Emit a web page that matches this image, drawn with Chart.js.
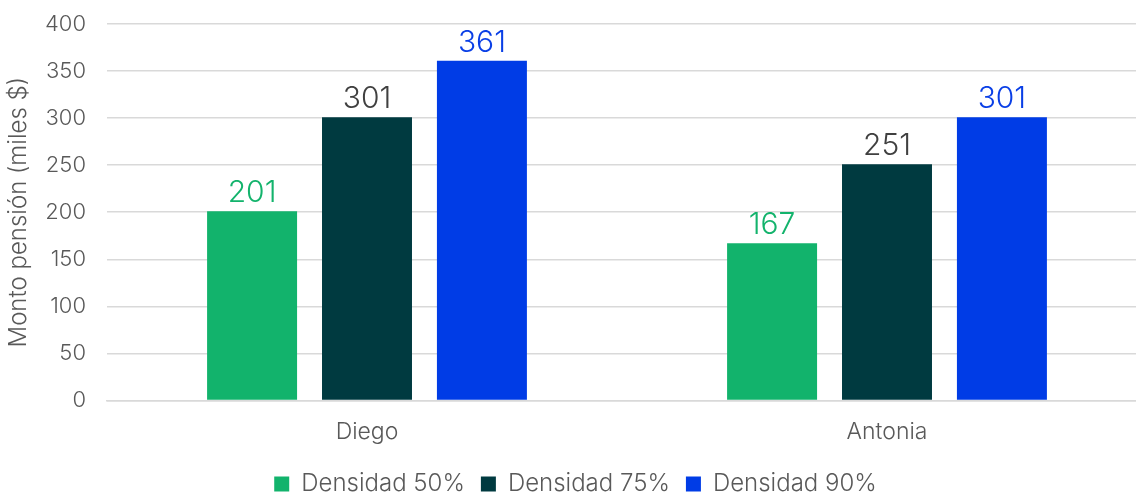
<!DOCTYPE html>
<html>
<head>
<meta charset="utf-8">
<script src="https://cdn.jsdelivr.net/npm/chart.js@4.4.1/dist/chart.umd.min.js"></script>
<style>
    html, body { margin: 0; padding: 0; background: #fff; overflow: hidden; }
    #wrap { width: 1150px; height: 495px; }
</style>
</head>
<body>
<div id="wrap"><canvas id="chart"></canvas></div>
<script>
const categories = ['Diego', 'Antonia'];
const seriesNames = ['Densidad 50%', 'Densidad 75%', 'Densidad 90%'];
const densidad50 = [201, 167];
const densidad75 = [301, 251];
const densidad90 = [361, 301];
const yTicks = [0, 50, 100, 150, 200, 250, 300, 350, 400];

const barColors = ['#12b36c', '#003a40', '#003ce6'];
const labelColors = ['#13b36c', '#404040', '#0a3fe6'];
const FONT = 'Inter, "Open Sans", sans-serif';

// value labels above the bars
const barLabels = {
    id: 'barLabels',
    afterDatasetsDraw(chart) {
        const { ctx } = chart;
        ctx.save();
        ctx.font = `300 30px ${FONT}`;
        ctx.textAlign = 'center';
        ctx.textBaseline = 'bottom';
        chart.data.datasets.forEach((ds, i) => {
            chart.getDatasetMeta(i).data.forEach((bar, j) => {
                ctx.fillStyle = labelColors[i];
                ctx.fillText(ds.data[j], bar.x, bar.y - 3);
            });
        });
        ctx.restore();
    }
};

const ctx = document.getElementById('chart').getContext('2d');
new Chart(ctx, {
    type: 'bar',
    data: {
        labels: categories,
        datasets: [densidad50, densidad75, densidad90].map((data, i) => ({
            label: seriesNames[i],
            data: data,
            backgroundColor: barColors[i],
            categoryPercentage: 0.663,
            barPercentage: 0.783
        }))
    },
    options: {
        responsive: true,
        maintainAspectRatio: false,
        animation: false,
        layout: { padding: { top: 24, right: 3, left: 4, bottom: -11 } },
        scales: {
            x: {
                grid: { display: false },
                border: { color: '#d9d9d9', width: 1.5 },
                ticks: { color: '#595959', font: { family: FONT, size: 23, weight: 300 }, padding: 10 }
            },
            y: {
                min: 0,
                max: 400,
                afterBuildTicks: (axis) => { axis.ticks = yTicks.map(v => ({ value: v })); },
                afterFit: (axis) => {
                    axis.width = 103;
                    axis.paddingTop = 0;
                    axis.paddingBottom = 0;
                },
                grid: { color: '#d9d9d9', lineWidth: 1.5, drawTicks: false },
                border: { display: false },
                ticks: { color: '#595959', font: { family: FONT, size: 22, weight: 300 }, padding: 21 },
                title: {
                    display: true,
                    text: 'Monto pensión (miles $)',
                    color: '#595959',
                    font: { family: FONT, size: 24, weight: 300 },
                    padding: 0
                }
            }
        },
        plugins: {
            legend: {
                position: 'bottom',
                labels: {
                    color: '#595959',
                    font: { family: FONT, size: 24, weight: 300 },
                    boxWidth: 15,
                    boxHeight: 15,
                    padding: 16,
                    useBorderRadius: false
                }
            },
            tooltip: { enabled: false }
        }
    },
    plugins: [barLabels]
});
</script>
</body>
</html>
